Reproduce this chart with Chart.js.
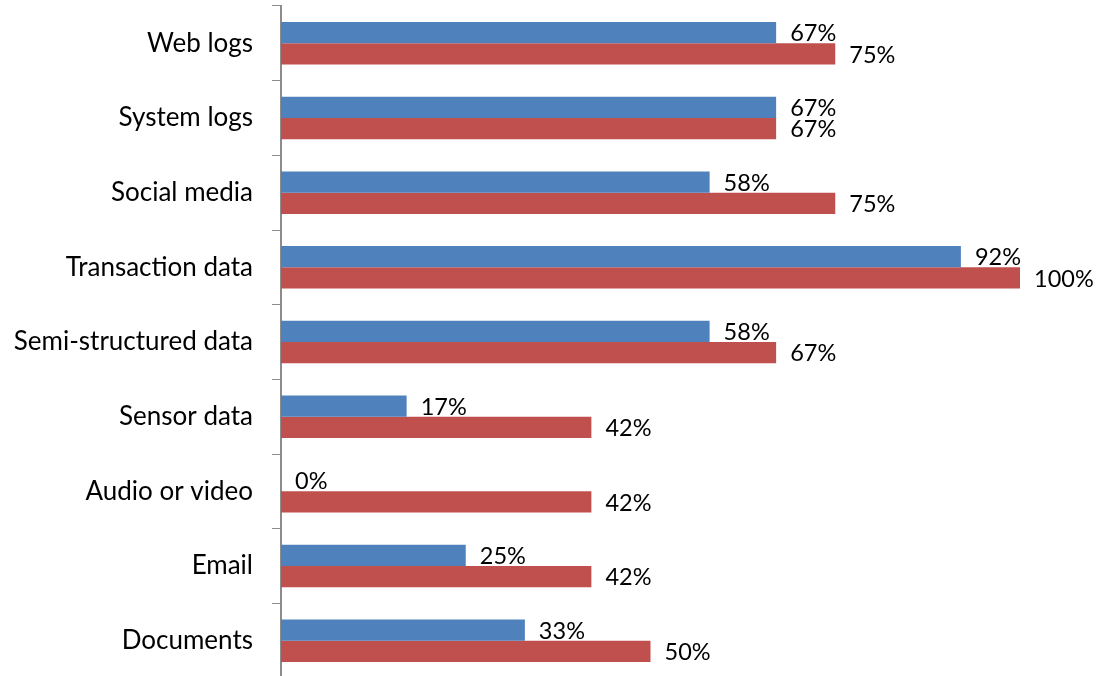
<!DOCTYPE html>
<html>
<head>
<meta charset="utf-8">
<script src="https://cdn.jsdelivr.net/npm/chart.js@4"></script>
<style>
html,body{margin:0;padding:0;background:#fff;overflow:hidden;}
#wrap{width:1105px;height:680px;position:relative;}
</style>
</head>
<body>
<div id="wrap"><canvas id="c"></canvas></div>
<script>
const categories = ["Web logs","System logs","Social media","Transaction data","Semi-structured data","Sensor data","Audio or video","Email","Documents"];
const seriesBlue = [67,67,58,92,58,17,0,25,33];
const seriesRed = [75,67,75,100,67,42,42,42,50];
const FONT = "Lato";

const valueLabels = {
  id: 'valueLabels',
  afterDatasetsDraw(chart) {
    const ctx = chart.ctx;
    ctx.save();
    ctx.fillStyle = '#000';
    ctx.font = '23.5px ' + FONT;
    ctx.textAlign = 'left';
    ctx.textBaseline = 'middle';
    chart.data.datasets.forEach((ds, di) => {
      const meta = chart.getDatasetMeta(di);
      meta.data.forEach((bar, i) => {
        ctx.fillText(ds.data[i] + '%', bar.x + 14, bar.y + 1);
      });
    });
    ctx.restore();
  }
};

new Chart(document.getElementById('c'), {
  type: 'bar',
  data: {
    labels: categories,
    datasets: [
      {label: 'A', data: seriesBlue, backgroundColor: '#4F81BD', borderWidth: 0, categoryPercentage: 0.57, barPercentage: 1},
      {label: 'B', data: seriesRed, backgroundColor: '#C0504D', borderWidth: 0, categoryPercentage: 0.57, barPercentage: 1}
    ]
  },
  options: {
    indexAxis: 'y',
    responsive: true,
    maintainAspectRatio: false,
    animation: false,
    layout: {padding: {top: 6, right: 85, bottom: 2, left: 0}},
    plugins: {legend: {display: false}, tooltip: {enabled: false}},
    scales: {
      x: {display: false, min: 0, max: 100},
      y: {
        afterFit(scale) { scale.width = 281; scale.paddingTop = 0; scale.paddingBottom = 0; },
        border: {display: true, color: '#8c8c8c', width: 2},
        grid: {drawOnChartArea: false, drawTicks: true, tickLength: 9, color: '#8c8c8c', lineWidth: 1, offset: true},
        ticks: {color: '#000', font: {family: FONT, size: 26}, padding: 19}
      }
    }
  },
  plugins: [valueLabels]
});
</script>
</body>
</html>
